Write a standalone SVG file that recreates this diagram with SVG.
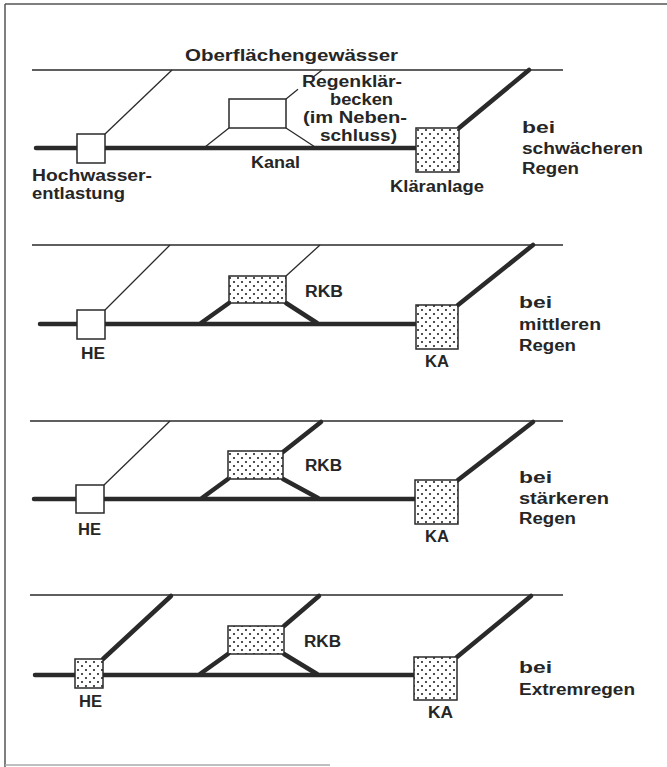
<svg xmlns="http://www.w3.org/2000/svg" width="667" height="767" viewBox="0 0 667 767">
<style>
  text { font-family: "Liberation Sans", Arial, sans-serif; font-weight: bold; font-size: 16px; fill: #262626; }
  .frame { stroke: #555; stroke-width: 1.5; fill: none; }
  .water { stroke: #2a2a2a; stroke-width: 1.3; fill: none; }
  .thin { stroke: #2a2a2a; stroke-width: 1.3; fill: none; }
  .thick { stroke: #2a2a2a; stroke-width: 4.5; fill: none; stroke-linecap: round; }
  .main { stroke: #2a2a2a; stroke-width: 4.5; fill: none; stroke-linecap: round; }
  .box { fill: #fff; stroke: #2a2a2a; stroke-width: 1.5; }
  .dotbox { fill: url(#dots); stroke: #2a2a2a; stroke-width: 1.5; }
</style>
<defs>
  <pattern id="dots" patternUnits="userSpaceOnUse" width="8" height="8">
    <rect width="8" height="8" fill="#fff"/>
    <circle cx="2" cy="2" r="1.05" fill="#222"/>
    <circle cx="6" cy="6" r="1.05" fill="#222"/>
  </pattern>
</defs>
<rect width="667" height="767" fill="#fff"/>
<g id="frame">
  <line class="frame" x1="5" y1="4" x2="667" y2="4"/>
  <line class="frame" x1="5" y1="4" x2="5" y2="767"/>
  <line x1="5" y1="765" x2="330" y2="765" stroke="#aaa" stroke-width="1.5"/>
</g>

<!-- Panel 1 -->
<g id="connectors-1">
  <line class="water" x1="32" y1="70" x2="563" y2="70"/>
  <line class="main" x1="36" y1="148" x2="416" y2="148"/>
  <line class="thin" x1="105" y1="134" x2="172" y2="70"/>
  <line class="thin" x1="229" y1="128" x2="205" y2="147"/>
  <line class="thin" x1="286" y1="128" x2="315" y2="147"/>
  <line class="thin" x1="286" y1="99" x2="298" y2="89.3"/>
  <line class="thin" x1="313" y1="77.2" x2="322" y2="70"/>
  <line class="thick" x1="459" y1="128" x2="529" y2="70"/>
</g>
<g id="water-1"><text x="185" y="61" textLength="213" lengthAdjust="spacingAndGlyphs">Oberflächengewässer</text></g>
<g id="he-1">
  <rect class="box" x="77" y="134" width="28" height="29"/>
  <text x="32" y="181" textLength="120" lengthAdjust="spacingAndGlyphs">Hochwasser-</text>
  <text x="32" y="199" textLength="93" lengthAdjust="spacingAndGlyphs">entlastung</text>
</g>
<g id="rkb-1">
  <rect class="box" x="229" y="99" width="57" height="29"/>
  <text x="302" y="87" textLength="100" lengthAdjust="spacingAndGlyphs">Regenklär-</text>
  <text x="330" y="105" textLength="63" lengthAdjust="spacingAndGlyphs">becken</text>
  <text x="303" y="123" textLength="104" lengthAdjust="spacingAndGlyphs">(im Neben-</text>
  <text x="320" y="141" textLength="77" lengthAdjust="spacingAndGlyphs">schluss)</text>
</g>
<g id="kanal-1"><text x="251" y="168" textLength="49" lengthAdjust="spacingAndGlyphs">Kanal</text></g>
<g id="ka-1">
  <rect class="dotbox" x="416" y="128" width="43" height="44"/>
  <text x="390" y="192" textLength="94" lengthAdjust="spacingAndGlyphs">Kläranlage</text>
</g>
<g id="case-1">
  <text x="522" y="133" textLength="33" lengthAdjust="spacingAndGlyphs">bei</text>
  <text x="522" y="154" textLength="121" lengthAdjust="spacingAndGlyphs">schwächeren</text>
  <text x="522" y="174" textLength="57" lengthAdjust="spacingAndGlyphs">Regen</text>
</g>

<!-- Panel 2 -->
<g id="connectors-2">
  <line class="water" x1="32" y1="245" x2="563" y2="245"/>
  <line class="main" x1="40" y1="324" x2="416" y2="324"/>
  <line class="thin" x1="105" y1="310" x2="170" y2="245"/>
  <line class="thick" x1="229" y1="303" x2="201" y2="323"/>
  <line class="thick" x1="286" y1="303" x2="317" y2="323"/>
  <line class="thin" x1="286" y1="276" x2="320" y2="245"/>
  <line class="thick" x1="458" y1="305" x2="533" y2="245"/>
</g>
<g id="he-2">
  <rect class="box" x="77" y="310" width="28" height="29"/>
  <text x="81" y="359" textLength="24" lengthAdjust="spacingAndGlyphs">HE</text>
</g>
<g id="rkb-2">
  <rect class="dotbox" x="229" y="276" width="57" height="27"/>
  <text x="305" y="297" textLength="38" lengthAdjust="spacingAndGlyphs">RKB</text>
</g>
<g id="ka-2">
  <rect class="dotbox" x="416" y="305" width="42" height="44"/>
  <text x="425" y="367" textLength="24" lengthAdjust="spacingAndGlyphs">KA</text>
</g>
<g id="case-2">
  <text x="519" y="308" textLength="33" lengthAdjust="spacingAndGlyphs">bei</text>
  <text x="519" y="330" textLength="82" lengthAdjust="spacingAndGlyphs">mittleren</text>
  <text x="519" y="351" textLength="57" lengthAdjust="spacingAndGlyphs">Regen</text>
</g>

<!-- Panel 3 -->
<g id="connectors-3">
  <line class="water" x1="30" y1="421" x2="563" y2="421"/>
  <line class="main" x1="34" y1="499" x2="415" y2="499"/>
  <line class="thin" x1="104" y1="485" x2="170" y2="421"/>
  <line class="thick" x1="228" y1="479" x2="202" y2="498"/>
  <line class="thick" x1="283" y1="479" x2="318" y2="498"/>
  <line class="thick" x1="283" y1="452" x2="321" y2="422"/>
  <line class="thick" x1="458" y1="480" x2="533" y2="422"/>
</g>
<g id="he-3">
  <rect class="box" x="76" y="485" width="28" height="28"/>
  <text x="78" y="535" textLength="23" lengthAdjust="spacingAndGlyphs">HE</text>
</g>
<g id="rkb-3">
  <rect class="dotbox" x="228" y="451" width="55" height="28"/>
  <text x="305" y="471" textLength="37" lengthAdjust="spacingAndGlyphs">RKB</text>
</g>
<g id="ka-3">
  <rect class="dotbox" x="415" y="480" width="43" height="44"/>
  <text x="425" y="542" textLength="24" lengthAdjust="spacingAndGlyphs">KA</text>
</g>
<g id="case-3">
  <text x="519" y="483" textLength="33" lengthAdjust="spacingAndGlyphs">bei</text>
  <text x="519" y="504" textLength="90" lengthAdjust="spacingAndGlyphs">stärkeren</text>
  <text x="519" y="524" textLength="57" lengthAdjust="spacingAndGlyphs">Regen</text>
</g>

<!-- Panel 4 -->
<g id="connectors-4">
  <line class="water" x1="30" y1="595" x2="563" y2="595"/>
  <line class="main" x1="35" y1="675" x2="414" y2="675"/>
  <line class="thick" x1="103" y1="659" x2="171" y2="596"/>
  <line class="thick" x1="228" y1="654" x2="200" y2="674"/>
  <line class="thick" x1="284" y1="654" x2="317" y2="674"/>
  <line class="thick" x1="284" y1="626" x2="319" y2="596"/>
  <line class="thick" x1="457" y1="657" x2="531" y2="596"/>
</g>
<g id="he-4">
  <rect class="dotbox" x="75" y="659" width="28" height="29"/>
  <text x="79" y="707" textLength="23" lengthAdjust="spacingAndGlyphs">HE</text>
</g>
<g id="rkb-4">
  <rect class="dotbox" x="228" y="626" width="56" height="28"/>
  <text x="304" y="647" textLength="37" lengthAdjust="spacingAndGlyphs">RKB</text>
</g>
<g id="ka-4">
  <rect class="dotbox" x="414" y="657" width="43" height="43"/>
  <text x="428" y="718" textLength="25" lengthAdjust="spacingAndGlyphs">KA</text>
</g>
<g id="case-4">
  <text x="519" y="673" textLength="33" lengthAdjust="spacingAndGlyphs">bei</text>
  <text x="519" y="695" textLength="116" lengthAdjust="spacingAndGlyphs">Extremregen</text>
</g>
</svg>
